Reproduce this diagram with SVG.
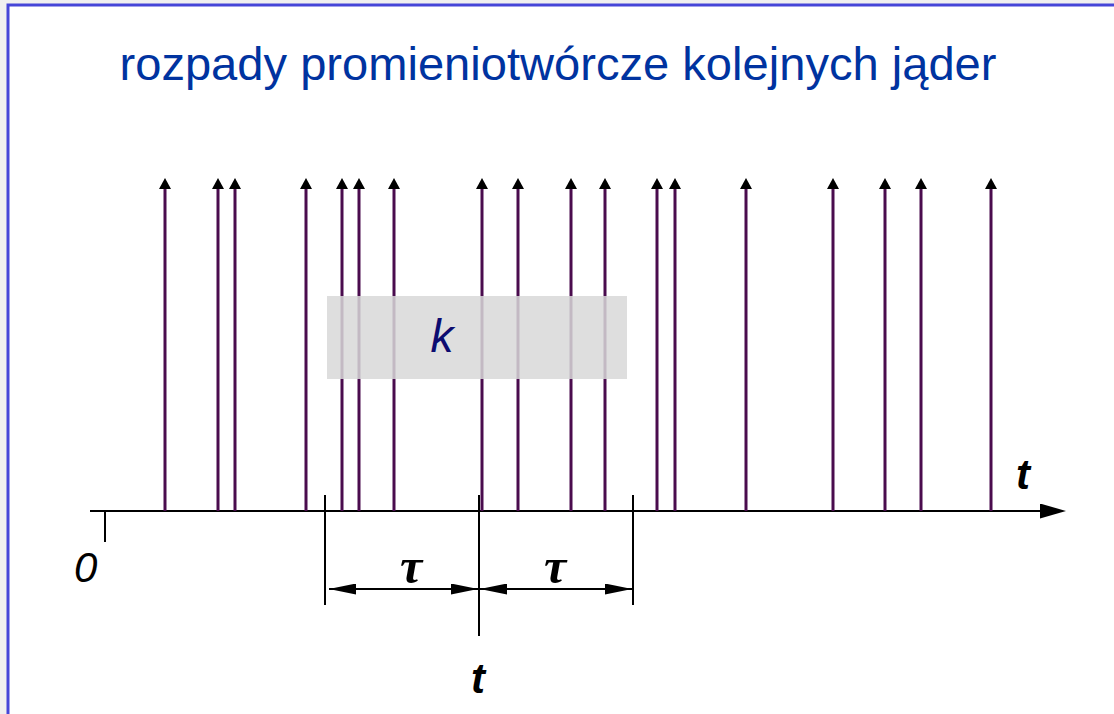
<svg xmlns="http://www.w3.org/2000/svg" width="1114" height="714" viewBox="0 0 1114 714">
<style>
.ev{stroke:#4a0c4e;stroke-width:3;fill:none;marker-end:url(#up)}
.blk{stroke:#000;stroke-width:2;fill:none}
.lbl{font-family:"Liberation Sans",Arial,sans-serif;font-style:italic;fill:#000}
.tau{font-family:"Liberation Serif","Times New Roman",serif;font-style:italic;font-weight:bold;font-size:50px;fill:#000}
</style>
<defs>
<marker id="up" viewBox="0 0 11 12" refX="1" refY="6" markerWidth="11" markerHeight="12" markerUnits="userSpaceOnUse" orient="auto">
<path d="M0,0 L11,6 L0,12 Z" fill="#000"/>
</marker>
<marker id="ax" viewBox="0 0 26 15" refX="0" refY="7.5" markerWidth="26" markerHeight="15" markerUnits="userSpaceOnUse" orient="auto">
<path d="M0,0 L26,7.5 L0,15 Z" fill="#000"/>
</marker>
<marker id="dim" viewBox="0 0 27 11" refX="27" refY="5.5" markerWidth="27" markerHeight="11" markerUnits="userSpaceOnUse" orient="auto-start-reverse">
<path d="M0,0 L27,5.5 L0,11 Z" fill="#000"/>
</marker>
</defs>
<rect x="0" y="0" width="1114" height="714" fill="#f0f0f0"/>
<rect x="8" y="5" width="1120" height="720" fill="#fff" stroke="#4646d8" stroke-width="3"/>
<g id="title">
<text x="558" y="80" text-anchor="middle" font-family="Liberation Sans,Arial,sans-serif" font-size="47" fill="#0033a0" textLength="877" lengthAdjust="spacingAndGlyphs">rozpady promieniotwórcze kolejnych jąder</text>
</g>
<g id="axis">
<line class="blk" x1="90" y1="511" x2="1040" y2="511" marker-end="url(#ax)"/>
<line class="blk" x1="105" y1="511" x2="105" y2="542"/>
<text class="lbl" x="74" y="582" font-size="42">0</text>
<text class="lbl" x="1016" y="489" font-size="42" font-weight="bold">t</text>
</g>
<g id="events">
<line class="ev" x1="165" y1="511" x2="165" y2="188"/>
<line class="ev" x1="218" y1="511" x2="218" y2="188"/>
<line class="ev" x1="235" y1="511" x2="235" y2="188"/>
<line class="ev" x1="306" y1="511" x2="306" y2="188"/>
<line class="ev" x1="342" y1="511" x2="342" y2="188"/>
<line class="ev" x1="359" y1="511" x2="359" y2="188"/>
<line class="ev" x1="394" y1="511" x2="394" y2="188"/>
<line class="ev" x1="482" y1="511" x2="482" y2="188"/>
<line class="ev" x1="518" y1="511" x2="518" y2="188"/>
<line class="ev" x1="571" y1="511" x2="571" y2="188"/>
<line class="ev" x1="605" y1="511" x2="605" y2="188"/>
<line class="ev" x1="657" y1="511" x2="657" y2="188"/>
<line class="ev" x1="675" y1="511" x2="675" y2="188"/>
<line class="ev" x1="746" y1="511" x2="746" y2="188"/>
<line class="ev" x1="833" y1="511" x2="833" y2="188"/>
<line class="ev" x1="885" y1="511" x2="885" y2="188"/>
<line class="ev" x1="921" y1="511" x2="921" y2="188"/>
<line class="ev" x1="991" y1="511" x2="991" y2="188"/>
</g>
<g id="window">
<rect x="327" y="296" width="300" height="83" fill="#d8d8d8" fill-opacity="0.85"/>
<text x="442" y="352" text-anchor="middle" font-family="Liberation Sans,Arial,sans-serif" font-style="italic" font-size="46" fill="#0c0c70">k</text>
</g>
<g id="dimensions">
<line class="blk" x1="325" y1="495" x2="325" y2="605"/>
<line class="blk" x1="479" y1="495" x2="479" y2="636"/>
<line class="blk" x1="633" y1="495" x2="633" y2="605"/>
<line class="blk" x1="329" y1="589" x2="478" y2="589" marker-start="url(#dim)" marker-end="url(#dim)"/>
<line class="blk" x1="480" y1="589" x2="632" y2="589" marker-start="url(#dim)" marker-end="url(#dim)"/>
<text class="tau" x="411" y="583" text-anchor="middle">τ</text>
<text class="tau" x="555" y="583" text-anchor="middle">τ</text>
<text class="lbl" x="471" y="693" font-size="42" font-weight="bold">t</text>
</g>
</svg>
